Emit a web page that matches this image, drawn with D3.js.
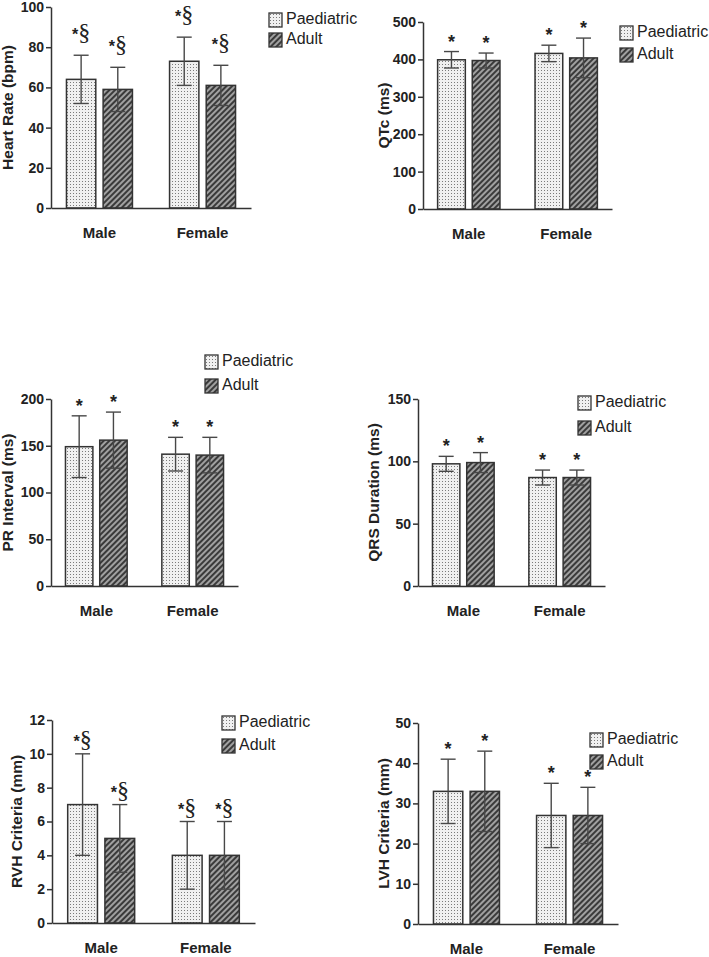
<!DOCTYPE html>
<html>
<head>
<meta charset="utf-8">
<script src="https://cdn.jsdelivr.net/npm/d3@7"></script>
<style>
  body { margin: 0; background: #fff; }
  svg { display: block; font-family: "Liberation Sans", Arial, sans-serif; }
  .axis path, .axis line { stroke: #333; stroke-width: 1.5px; }
  .axis text { font-size: 14px; font-weight: bold; fill: #222; }
  .cat text { font-size: 15px; }
</style>
</head>
<body>
<script>
// categories and series
const groups = ["Male", "Female"];
const series = ["Paediatric", "Adult"];

// values in order: Male-Paed, Male-Adult, Female-Paed, Female-Adult
const heartRateMean = [64, 59, 73, 61];
const heartRateSD = [12, 11, 12, 10];
const heartRateTicks = [0, 20, 40, 60, 80, 100];

const qtcMean = [399, 397, 416, 404];
const qtcSD = [22, 20, 22, 53];
const qtcTicks = [0, 100, 200, 300, 400, 500];

const prMean = [149, 156, 141, 140];
const prSD = [33, 30, 18, 19];
const prTicks = [0, 50, 100, 150, 200];

const qrsMean = [98, 99, 87, 87];
const qrsSD = [6, 8, 6, 6];
const qrsTicks = [0, 50, 100, 150];

const rvhMean = [7, 5, 4, 4];
const rvhSD = [3, 2, 2, 2];
const rvhTicks = [0, 2, 4, 6, 8, 10, 12];

const lvhMean = [33, 33, 27, 27];
const lvhSD = [8, 10, 8, 7];
const lvhTicks = [0, 10, 20, 30, 40, 50];

const width = 709, height = 957;

const svg = d3.select("body").append("svg")
  .attr("width", width)
  .attr("height", height);

// fill patterns
const defs = svg.append("defs");
let dots = defs.append("pattern")
  .attr("id", "dots")
  .attr("patternUnits", "userSpaceOnUse")
  .attr("width", 3).attr("height", 3);
dots.append("rect").attr("width", 3).attr("height", 3).attr("fill", "#f0f0f0");
dots.append("rect").attr("x", 1).attr("y", 1).attr("width", 1).attr("height", 1).attr("fill", "#7a7a7a");

let hatch = defs.append("pattern")
  .attr("id", "hatch")
  .attr("patternUnits", "userSpaceOnUse")
  .attr("width", 4).attr("height", 4)
  .attr("patternTransform", "rotate(45)");
hatch.append("rect").attr("width", 4).attr("height", 4).attr("fill", "#a0a0a0");
hatch.append("rect").attr("width", 2).attr("height", 4).attr("fill", "#3a3a3a");

const fills = { "Paediatric": "url(#dots)", "Adult": "url(#hatch)" };

// panel layout (pixel positions only)
const panels = [
  { title: "Heart Rate (bpm)", mean: heartRateMean, sd: heartRateSD, ticks: heartRateTicks, mark: "*§", markOff: 15,
    left: 51, right: 251, top: 7, bottom: 208, titleOff: 42, legendX: 269, legendY: 13, legendGap: 20 },
  { title: "QTc (ms)", mean: qtcMean, sd: qtcSD, ticks: qtcTicks, mark: "*", markOff: 4,
    left: 423, right: 612, top: 22, bottom: 209, titleOff: 38, legendX: 620, legendY: 26, legendGap: 22 },
  { title: "PR Interval (ms)", mean: prMean, sd: prSD, ticks: prTicks, mark: "*", markOff: 4,
    left: 51, right: 238, top: 399, bottom: 586, titleOff: 42, legendX: 205, legendY: 355, legendGap: 24 },
  { title: "QRS Duration (ms)", mean: qrsMean, sd: qrsSD, ticks: qrsTicks, mark: "*", markOff: 4,
    left: 418, right: 605, top: 399, bottom: 586, titleOff: 43, legendX: 578, legendY: 396, legendGap: 25 },
  { title: "RVH Criteria (mm)", mean: rvhMean, sd: rvhSD, ticks: rvhTicks, mark: "*§", markOff: 7,
    left: 52, right: 255, top: 720, bottom: 923, titleOff: 34, legendX: 222, legendY: 716, legendGap: 23 },
  { title: "LVH Criteria (mm)", mean: lvhMean, sd: lvhSD, ticks: lvhTicks, mark: "*", markOff: 4,
    left: 418, right: 618, top: 723, bottom: 924, titleOff: 33, legendX: 590, legendY: 733, legendGap: 22 }
];

for (let p of panels) {
  let y = d3.scaleLinear()
    .domain([0, p.ticks[p.ticks.length - 1]])
    .range([p.bottom, p.top]);

  let x0 = d3.scaleBand()
    .domain(groups)
    .range([p.left, p.right])
    .paddingInner(0.36)
    .paddingOuter(0.15);

  let x1 = d3.scaleBand()
    .domain(series)
    .range([0, x0.bandwidth()])
    .paddingInner(0.2);

  let rows = [];
  groups.forEach((g, gi) => series.forEach((s, si) => {
    let k = gi * series.length + si;
    rows.push({ group: g, series: s, mean: p.mean[k], sd: p.sd[k] });
  }));

  let g = svg.append("g");

  // bars
  g.selectAll(".bar")
    .data(rows)
    .join("rect")
    .attr("class", "bar")
    .attr("x", d => x0(d.group) + x1(d.series))
    .attr("width", x1.bandwidth())
    .attr("y", d => y(d.mean))
    .attr("height", d => y(0) - y(d.mean))
    .attr("fill", d => fills[d.series])
    .attr("stroke", "#333")
    .attr("stroke-width", 1.5);

  // error bars, drawn over the bars
  let cap = 7.5;
  let eb = g.selectAll(".err")
    .data(rows)
    .join("g")
    .attr("class", "err")
    .attr("transform", d => `translate(${x0(d.group) + x1(d.series) + x1.bandwidth() / 2},0)`)
    .attr("stroke", "#484848")
    .attr("stroke-width", 1.4);
  eb.append("line")
    .attr("y1", d => y(d.mean - d.sd))
    .attr("y2", d => y(d.mean + d.sd));
  eb.append("line")
    .attr("x1", -cap).attr("x2", cap)
    .attr("y1", d => y(d.mean + d.sd))
    .attr("y2", d => y(d.mean + d.sd));
  eb.append("line")
    .attr("x1", -cap).attr("x2", cap)
    .attr("y1", d => y(d.mean - d.sd))
    .attr("y2", d => y(d.mean - d.sd));

  // significance marks
  let marks = g.selectAll(".mark")
    .data(rows)
    .join("text")
    .attr("class", "mark")
    .attr("x", d => x0(d.group) + x1(d.series) + x1.bandwidth() / 2)
    .attr("y", d => y(d.mean + d.sd) - p.markOff)
    .attr("text-anchor", "middle")
    .attr("fill", "#222");
  marks.append("tspan")
    .attr("font-size", p.mark.length > 1 ? "16px" : "18px")
    .attr("font-weight", "bold")
    .text("*");
  if (p.mark.length > 1) {
    marks.append("tspan")
      .attr("font-family", "'Liberation Serif', 'Times New Roman', serif")
      .attr("font-size", "24px")
      .text("§");
  }

  // y axis
  g.append("g")
    .attr("class", "axis")
    .attr("transform", `translate(${p.left},0)`)
    .call(d3.axisLeft(y)
      .tickValues(p.ticks)
      .tickSizeInner(5)
      .tickSizeOuter(0)
      .tickPadding(2)
    );

  // x axis
  g.append("g")
    .attr("class", "axis cat")
    .attr("transform", `translate(0,${p.bottom})`)
    .call(d3.axisBottom(x0)
      .tickSize(0)
      .tickPadding(19)
    );

  g.append("text")
    .attr("transform", `translate(${p.left - p.titleOff},${(p.top + p.bottom) / 2}) rotate(-90)`)
    .attr("text-anchor", "middle")
    .attr("dominant-baseline", "middle")
    .attr("font-size", "15.5px")
    .attr("font-weight", "bold")
    .attr("fill", "#222")
    .text(p.title);

  // legend
  let lg = g.append("g")
    .attr("transform", `translate(${p.legendX},${p.legendY})`);
  series.forEach((s, i) => {
    lg.append("rect")
      .attr("y", i * p.legendGap)
      .attr("width", 13)
      .attr("height", 14)
      .attr("fill", fills[s])
      .attr("stroke", "#333")
      .attr("stroke-width", 1.3);
    lg.append("text")
      .attr("x", 17)
      .attr("y", i * p.legendGap + 7)
      .attr("dominant-baseline", "middle")
      .attr("font-size", "16px")
      .attr("fill", "#222")
      .text(s);
  });
}
</script>
</body>
</html>
